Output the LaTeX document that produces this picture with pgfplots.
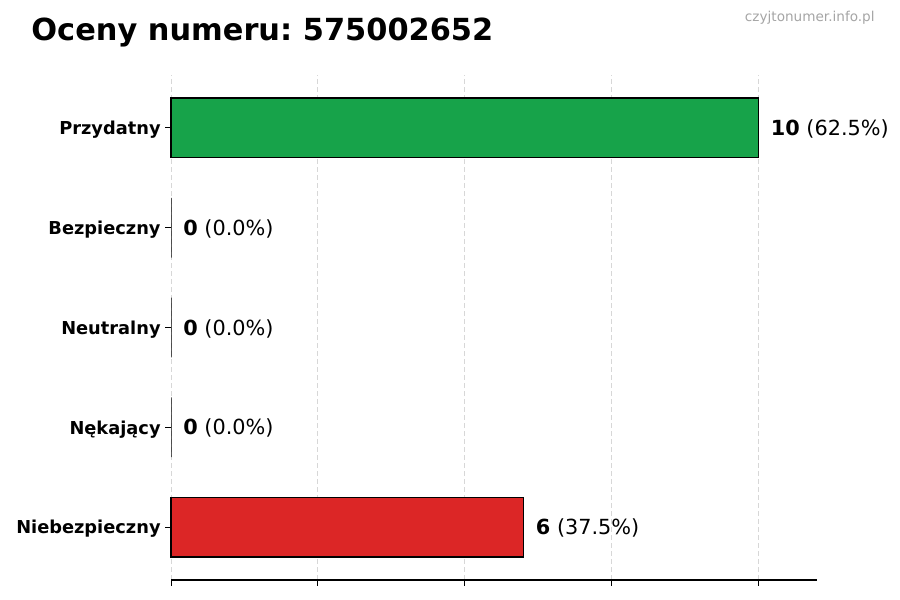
\documentclass[border=0pt]{standalone}
\usepackage{fontspec}
\setmainfont{DejaVu Sans}
\usepackage{pgfplots}
\pgfplotsset{compat=1.18}
\frenchspacing

\definecolor{barGreen}{RGB}{23,163,74}
\definecolor{barRed}{RGB}{220,38,38}
\definecolor{gridGray}{RGB}{215,215,215}
\definecolor{markGray}{RGB}{165,165,165}

\begin{document}
\begin{tikzpicture}[x=1pt,y=1pt]
  % page = 900x600 px at 0.5pt per px
  \path[use as bounding box] (0,0) rectangle (450,300);

  \node[anchor=west, inner sep=0pt, font=\bfseries\fontsize{15.2}{17}\selectfont]
    at (15.5,283.5) {Oceny numeru: 575002652};
  \node[anchor=east, inner sep=0pt, text=markGray, font=\fontsize{6.8}{8}\selectfont]
    at (437.5,291) {czyjtonumer.info.pl};

  \begin{axis}[
      at={(85.5pt,10pt)}, anchor=south west,
      scale only axis,
      width=323pt, height=252.5pt,
      xbar, bar width=0.6, bar shift=0,
      xmin=0, xmax=11,
      ymin=-0.53, ymax=4.53,
      axis x line*=bottom,
      axis y line*=left,
      x axis line style={-, line width=0.6pt},
      y axis line style={draw=none},
      xtick={0,2.5,5,7.5,10},
      xticklabels={},
      ytick={0,1,2,3,4},
      yticklabels={Niebezpieczny,Nękający,Neutralny,Bezpieczny,Przydatny},
      yticklabel style={font=\bfseries\fontsize{8.9}{10}\selectfont, inner sep=1pt,
        xshift=-1pt, yshift=-1pt},
      tick align=outside,
      major tick length=3pt,
      tick style={black, line width=0.5pt},
      xmajorgrids,
      grid style={dash pattern=on 2.5pt off 1.5pt, gridGray, line width=0.4pt},
      clip=false,
      nodes near coords style={anchor=west, inner sep=0pt, xshift=6pt, yshift=-0.5pt,
        font=\fontsize{10.4}{12}\selectfont, text=black},
    ]
    \addplot[fill=barGreen, draw=black, line width=0.6pt,
      nodes near coords={\textbf{10} (62.5\%)}]
      coordinates {(10,4)};
    \addplot[fill=white, draw=black, line width=0.4pt,
      nodes near coords={\textbf{0} (0.0\%)}]
      coordinates {(0,3)};
    \addplot[fill=white, draw=black, line width=0.4pt,
      nodes near coords={\textbf{0} (0.0\%)}]
      coordinates {(0,2)};
    \addplot[fill=white, draw=black, line width=0.4pt,
      nodes near coords={\textbf{0} (0.0\%)}]
      coordinates {(0,1)};
    \addplot[fill=barRed, draw=black, line width=0.6pt,
      nodes near coords={\textbf{6} (37.5\%)}]
      coordinates {(6,0)};
  \end{axis}
\end{tikzpicture}
\end{document}
